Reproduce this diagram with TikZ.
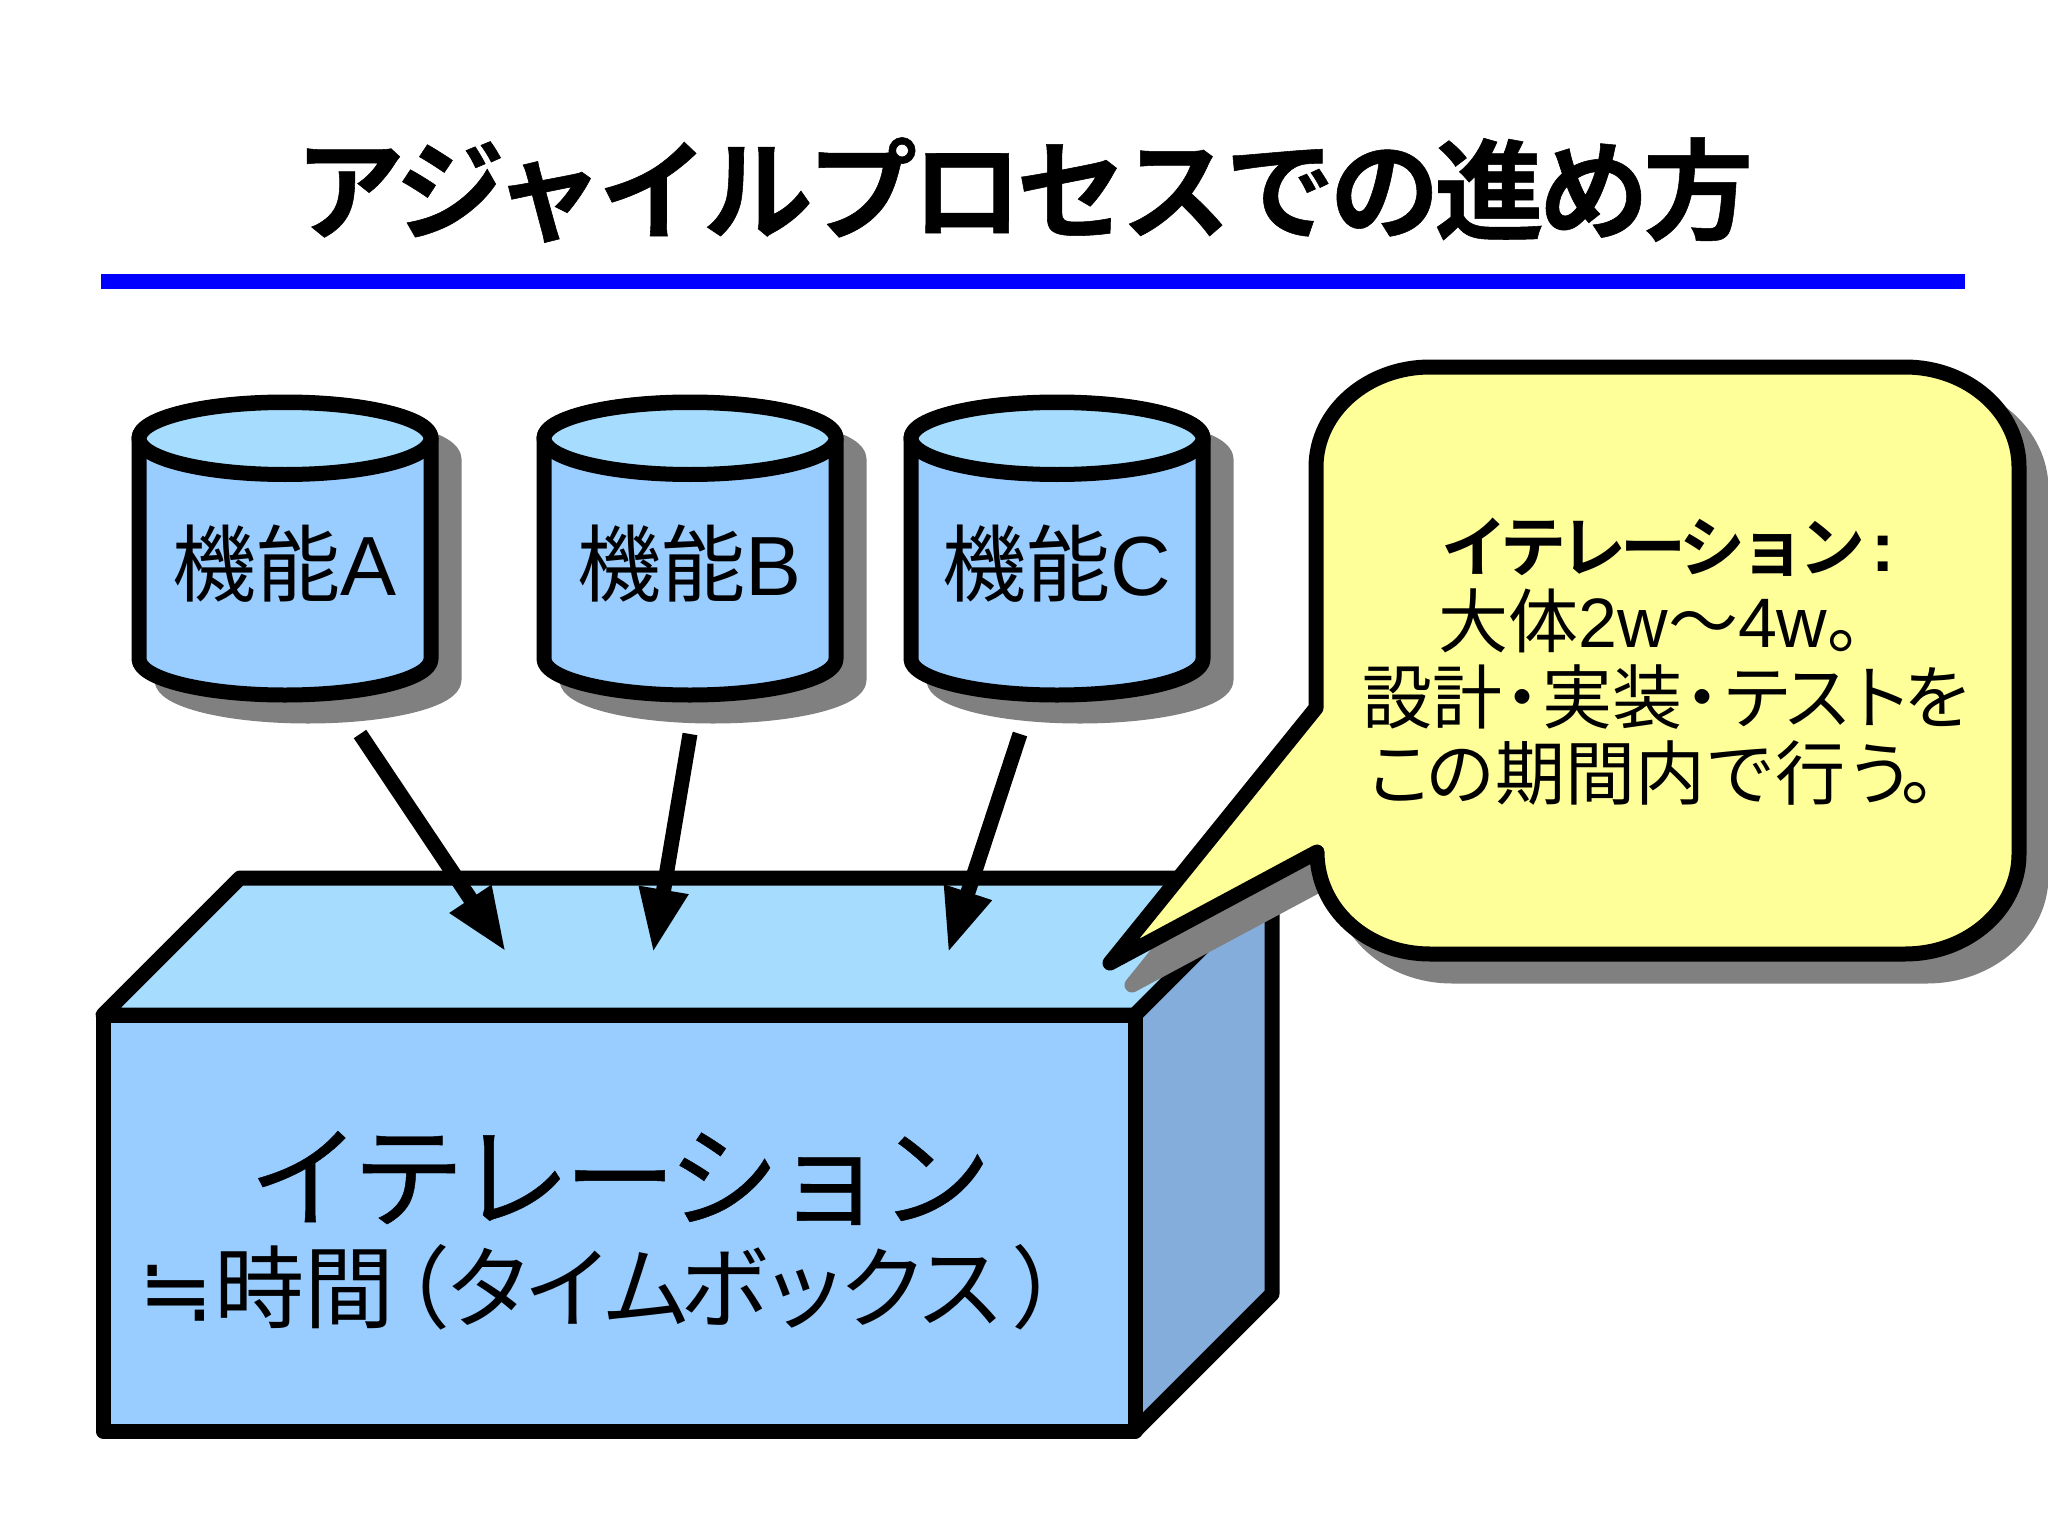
\documentclass[tikz,border=0pt]{standalone}
\usepackage{fontspec}
\usetikzlibrary{arrows.meta}
\setmainfont{Liberation Sans}
\newfontfamily\kn{Noto Sans CJK JP}
\newfontfamily\ka{Noto Sans CJK JP}[LetterSpace=-14]
\newfontfamily\midka{Noto Sans CJK JP}[LetterSpace=-12]
\newfontfamily\kabold{Noto Sans CJK JP Bold}[LetterSpace=-9]
\newfontfamily\bigka{Noto Sans CJK JP}[LetterSpace=-5.5,FakeBold=0.4]
\newfontfamily\titlef{Noto Sans CJK JP Bold}[LetterSpace=-5,FakeBold=0.5]
\newfontfamily\symf{DejaVu Sans}
\definecolor{sidecol}{HTML}{99CCFF}
\definecolor{topcol}{HTML}{A6DDFF}
\definecolor{darkside}{HTML}{85ADDB}
\definecolor{shadowcol}{HTML}{808080}
\definecolor{notecol}{HTML}{FFFF99}
\tikzset{
  solid line/.style={draw=black,line width=7.5pt,line join=round},
  shadow fill/.style={fill=shadowcol,draw=shadowcol,line width=7.5pt,line join=round},
  feature arrow/.style={draw=black,line width=7.5pt,-{Triangle[length=32pt,width=23pt]}},
  feature label/.style={font=\fontsize{42}{48}\selectfont,inner sep=0pt},
}
\newcommand{\cylsil}[1]{(#1-146,438) -- (#1-146,659) arc[start angle=180,end angle=360,x radius=73pt,y radius=18pt] -- (#1+146,438) arc[start angle=0,end angle=180,x radius=73pt,y radius=18pt] -- cycle}
\newcommand{\mycyl}[3]{%
  \begin{scope}[shift={(23,21)}]
    \path[shadow fill] \cylsil{#1};
  \end{scope}
  \path[fill=sidecol,solid line] \cylsil{#1};
  \path[fill=topcol,solid line] (#1,438.5) ellipse[x radius=73pt,y radius=18pt];
  \node[feature label] (#2) at (#1,564) {{\kn 機能}#3};
}
\newcommand{\notepath}{(1316,708) -- (1316,467) .. controls (1316,412) and (1367,367) .. (1430,367) -- (1905,367) .. controls (1968,367) and (2019,412) .. (2019,467) -- (2019,854) .. controls (2019,909) and (1968,954) .. (1905,954) -- (1430,954) .. controls (1367,954) and (1317,909) .. (1317,852) -- (1110,963) -- cycle}
\newcommand{\nakaten}{\kern-7.5pt{\kn ・}\kern-7.5pt}
\begin{document}
\begin{tikzpicture}[x=0.5pt,y=-0.5pt]
\useasboundingbox (0,0) rectangle (2048,1535);
\fill[white] (0,0) rectangle (2048,1535);
% title
\node[inner sep=0pt,font=\titlef\fontsize{55}{60}\selectfont] (title) at (1024,190) {アジャイルプロセスでの進め方};
\coordinate (ruleL) at (101,282);
\coordinate (ruleR) at (1965,282);
\draw[blue,line width=7.5pt] (ruleL) -- (ruleR);
% box
\path[fill=topcol,solid line] (103,1015) -- (240,878) -- (1272,878) -- (1135,1015) -- cycle;
\path[fill=darkside,solid line] (1135,1015) -- (1272,878) -- (1272,1294) -- (1135,1431) -- cycle;
\path[fill=sidecol,solid line] (103,1015) rectangle (1135,1431);
\node[inner sep=0pt,font=\bigka\fontsize{56}{60}\selectfont] (boxA) at (620,1178) {イテレーション};
\node[inner sep=0pt,font=\fontsize{45}{48}\selectfont] (boxB) at (620,1287) {{\symf ≒}{\kn 時間}\kern-17pt{\kn （}\kern-3pt{\midka タイムボックス}\kern3pt{\kn ）}};
% cylinders
\mycyl{285}{cylA}{A}
\mycyl{690}{cylB}{B}
\mycyl{1057}{cylC}{C}
% arrows
\coordinate (sA) at (360,734); \coordinate (tA) at (506,952);
\coordinate (sB) at (690,734); \coordinate (tB) at (653,953);
\coordinate (sC) at (1020,734); \coordinate (tC) at (948,953);
\draw[feature arrow] (sA) -- (tA);
\draw[feature arrow] (sB) -- (tB);
\draw[feature arrow] (sC) -- (tC);
% callout
\begin{scope}[shift={(22,22)}]
  \path[shadow fill] \notepath;
\end{scope}
\path[fill=notecol,solid line] \notepath;
\node[inner sep=0pt,align=center,font=\fontsize{35}{38}\selectfont] (note) at (1668,662)
  {{\kabold\fontsize{33}{38}\selectfont イテレーション}\kern3pt{\bfseries :}\\
   {\kn 大体}2w{\kn ～}4w{\kn 。}\\
   {\kn 設計}\nakaten{\kn 実装}\nakaten{\ka テストを}\\
   {\ka この}{\kn 期間内}{\ka で}{\kn 行}{\ka う。}};
\end{tikzpicture}
\end{document}
